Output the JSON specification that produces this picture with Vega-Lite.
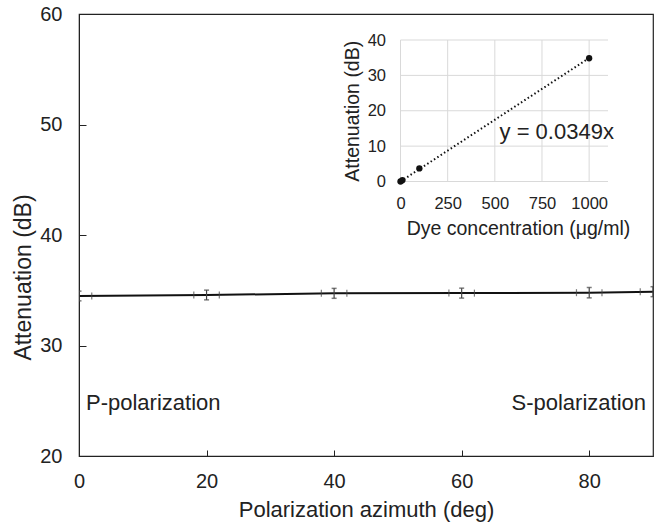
{
  "$schema": "https://vega.github.io/schema/vega-lite/v6.json",
  "width": 574,
  "height": 442,
  "autosize": {"type": "none"},
  "padding": {"left": 79, "top": 14, "right": 5, "bottom": 67},
  "config": {
    "font": "Liberation Sans",
    "view": {"stroke": "#222", "strokeWidth": 1.2},
    "axis": {"labelFont": "Liberation Sans", "titleFont": "Liberation Sans", "labelColor": "#222", "titleColor": "#222", "titleFontWeight": "normal", "grid": false}
  },
  "datasets": {
    "pol": [
      {"deg": 0, "att": 34.48, "lo": 34.04, "hi": 34.92, "dlo": -2, "dhi": 2},
      {"deg": 20, "att": 34.57, "lo": 34.13, "hi": 35.01, "dlo": 18, "dhi": 22},
      {"deg": 40, "att": 34.72, "lo": 34.27, "hi": 35.17, "dlo": 38, "dhi": 42},
      {"deg": 60, "att": 34.74, "lo": 34.29, "hi": 35.19, "dlo": 58, "dhi": 62},
      {"deg": 80, "att": 34.78, "lo": 34.31, "hi": 35.25, "dlo": 78, "dhi": 82},
      {"deg": 90, "att": 34.87, "lo": 34.42, "hi": 35.32, "dlo": 88, "dhi": 92}
    ],
    "plabels": [
      {"deg": 0, "att": 24.8, "label": "P-polarization"}
    ],
    "slabels": [
      {"deg": 90, "att": 24.8, "label": "S-polarization"}
    ],
    "dye": [
      {"conc": 0, "att": 0, "lo": -0.3, "hi": 0.3},
      {"conc": 10, "att": 0.35, "lo": 0.05, "hi": 0.65},
      {"conc": 100, "att": 3.7, "lo": 3.2, "hi": 4.2},
      {"conc": 1000, "att": 34.85, "lo": 34.2, "hi": 35.5}
    ],
    "fit": [
      {"conc": 0, "att": 0},
      {"conc": 1000, "att": 34.9}
    ],
    "vgrid": [{"g": 0}, {"g": 250}, {"g": 500}, {"g": 750}, {"g": 1000}],
    "hgrid": [{"g": 0}, {"g": 10}, {"g": 20}, {"g": 30}, {"g": 40}],
    "eq": [{"conc": 525, "att": 14.1, "label": "y = 0.0349x"}]
  },
  "layer": [
    {
      "layer": [
        {
          "data": {"name": "pol"},
          "mark": {"type": "line", "color": "#111", "strokeWidth": 2, "clip": true},
          "encoding": {
            "x": {"field": "deg", "type": "quantitative",
                  "scale": {"domain": [0, 90], "nice": false, "zero": false},
                  "axis": {"values": [0, 20, 40, 60, 80], "title": "Polarization azimuth (deg)", "labelFontSize": 20, "titleFontSize": 22, "tickSize": -6, "tickColor": "#222", "domainColor": "#222", "labelPadding": 21, "titlePadding": 8, "labelFlush": false}},
            "y": {"field": "att", "type": "quantitative",
                  "scale": {"domain": [20, 60], "nice": false, "zero": false},
                  "axis": {"values": [20, 30, 40, 50, 60], "title": "Attenuation (dB)", "labelFontSize": 20, "titleFontSize": 23, "tickSize": -7, "tickColor": "#222", "domainColor": "#222", "labelPadding": 24, "titlePadding": 4, "titleY": 263, "labelFlush": false}}
          }
        },
        {
          "data": {"name": "pol"},
          "mark": {"type": "rule", "color": "#444", "strokeWidth": 1.2, "clip": true},
          "encoding": {
            "x": {"field": "deg", "type": "quantitative"},
            "y": {"field": "lo", "type": "quantitative"},
            "y2": {"field": "hi"}
          }
        },
        {
          "data": {"name": "pol"},
          "mark": {"type": "tick", "orient": "horizontal", "color": "#444", "size": 5, "thickness": 1.5, "clip": true},
          "encoding": {
            "x": {"field": "deg", "type": "quantitative"},
            "y": {"field": "lo", "type": "quantitative"}
          }
        },
        {
          "data": {"name": "pol"},
          "mark": {"type": "tick", "orient": "horizontal", "color": "#444", "size": 5, "thickness": 1.5, "clip": true},
          "encoding": {
            "x": {"field": "deg", "type": "quantitative"},
            "y": {"field": "hi", "type": "quantitative"}
          }
        },
        {
          "data": {"name": "pol"},
          "mark": {"type": "tick", "orient": "vertical", "color": "#444", "size": 7, "thickness": 1.2, "clip": true},
          "encoding": {
            "x": {"field": "dlo", "type": "quantitative"},
            "y": {"field": "att", "type": "quantitative"}
          }
        },
        {
          "data": {"name": "pol"},
          "mark": {"type": "tick", "orient": "vertical", "color": "#444", "size": 7, "thickness": 1.2, "clip": true},
          "encoding": {
            "x": {"field": "dhi", "type": "quantitative"},
            "y": {"field": "att", "type": "quantitative"}
          }
        },
        {
          "data": {"name": "plabels"},
          "mark": {"type": "text", "align": "left", "baseline": "middle", "dx": 7, "fontSize": 22, "color": "#222"},
          "encoding": {
            "x": {"field": "deg", "type": "quantitative"},
            "y": {"field": "att", "type": "quantitative"},
            "text": {"field": "label"}
          }
        },
        {
          "data": {"name": "slabels"},
          "mark": {"type": "text", "align": "right", "baseline": "middle", "dx": -7, "fontSize": 22, "color": "#222"},
          "encoding": {
            "x": {"field": "deg", "type": "quantitative"},
            "y": {"field": "att", "type": "quantitative"},
            "text": {"field": "label"}
          }
        }
      ]
    },
    {
      "layer": [
        {
          "data": {"name": "vgrid"},
          "mark": {"type": "rule", "color": "#d9d9d9", "strokeWidth": 1},
          "encoding": {
            "x": {"field": "g", "type": "quantitative",
                  "scale": {"domain": [0, 1100], "range": [321.5, 529], "nice": false, "zero": false},
                  "axis": {"orient": "bottom", "offset": -274.5, "values": [0, 250, 500, 750, 1000], "format": "d", "domain": false, "ticks": false, "grid": false, "labelFontSize": 16.5, "labelPadding": 14, "labelFlush": false, "title": "Dye concentration (μg/ml)", "titleFontSize": 19.5, "titlePadding": 7, "titleX": 439}},
            "y": {"datum": 0, "type": "quantitative",
                  "scale": {"domain": [0, 40], "range": [167.5, 26], "nice": false, "zero": false},
                  "axis": {"orient": "left", "offset": -321.5, "values": [0, 10, 20, 30, 40], "domain": false, "ticks": false, "grid": false, "labelFontSize": 16.5, "labelPadding": 15, "labelFlush": false, "title": "Attenuation (dB)", "titleFontSize": 19.5, "titlePadding": 5}},
            "y2": {"datum": 40}
          }
        },
        {
          "data": {"name": "hgrid"},
          "mark": {"type": "rule", "color": "#d9d9d9", "strokeWidth": 1},
          "encoding": {
            "y": {"field": "g", "type": "quantitative"},
            "x": {"datum": 0, "type": "quantitative"},
            "x2": {"datum": 1100}
          }
        },
        {
          "data": {"name": "fit"},
          "mark": {"type": "line", "color": "#111", "strokeWidth": 2, "strokeDash": [1.5, 2.5]},
          "encoding": {
            "x": {"field": "conc", "type": "quantitative"},
            "y": {"field": "att", "type": "quantitative"}
          }
        },
        {
          "data": {"name": "dye"},
          "mark": {"type": "rule", "color": "#111", "strokeWidth": 1},
          "encoding": {
            "x": {"field": "conc", "type": "quantitative"},
            "y": {"field": "lo", "type": "quantitative"},
            "y2": {"field": "hi"}
          }
        },
        {
          "data": {"name": "dye"},
          "mark": {"type": "point", "filled": true, "color": "#111", "size": 40, "opacity": 1},
          "encoding": {
            "x": {"field": "conc", "type": "quantitative"},
            "y": {"field": "att", "type": "quantitative"}
          }
        },
        {
          "data": {"name": "eq"},
          "mark": {"type": "text", "align": "left", "baseline": "middle", "fontSize": 22, "color": "#222"},
          "encoding": {
            "x": {"field": "conc", "type": "quantitative"},
            "y": {"field": "att", "type": "quantitative"},
            "text": {"field": "label"}
          }
        }
      ]
    }
  ],
  "resolve": {
    "scale": {"x": "independent", "y": "independent"},
    "axis": {"x": "independent", "y": "independent"}
  }
}
